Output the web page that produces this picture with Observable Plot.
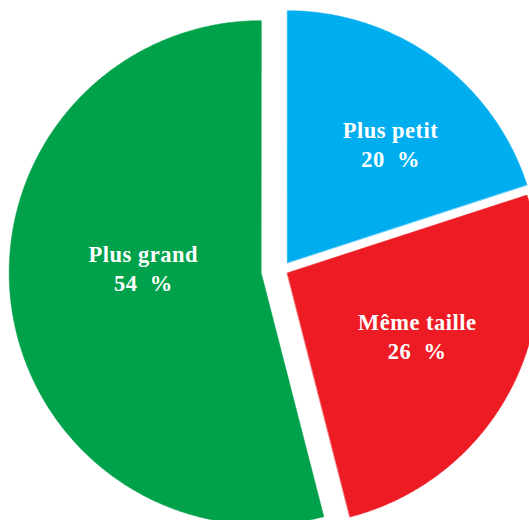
<!DOCTYPE html>
<html>
<head>
<meta charset="utf-8">
<script src="https://cdn.jsdelivr.net/npm/d3@7"></script>
<script src="https://cdn.jsdelivr.net/npm/@observablehq/plot@0.6"></script>
<style>
  html, body { margin: 0; padding: 0; background: #ffffff; }
  #chart svg text { white-space: pre; letter-spacing: 0.5px; }
</style>
</head>
<body>
<div id="chart"></div>
<script>
// ---- data ----
const categories = ["Plus petit", "Même taille", "Plus grand"];
const values = [20, 26, 54];
const valueLabels = ["20  %", "26  %", "54  %"];
const colors = ["#00aeef", "#ed1c24", "#00a14b"];

// ---- layout (pixels) ----
const W = 529, H = 520;
const R = 252;                 // pie radius
const CX = 281.5, CY = 269.5;  // pie centre
const explode = [9, 6, 21];    // outward offset of each slice
const labelPolar = [[40.8, 158], [115.5, 144], [272.7, 118]]; // angle (deg), distance from slice tip

const total = d3.sum(values);
const toRad = Math.PI / 180;
const points = [];
const labelRows = [];
let acc = 0;
categories.forEach((cat, i) => {
  const a0 = (acc / total) * 2 * Math.PI;
  acc += values[i];
  const a1 = (acc / total) * 2 * Math.PI;
  const mid = (a0 + a1) / 2;
  const off = explode[i] / R;
  const ox = off * Math.sin(mid), oy = off * Math.cos(mid);
  points.push({cat, x: ox, y: oy});
  const steps = Math.max(2, Math.ceil((a1 - a0) / (0.4 * toRad)));
  for (let k = 0; k <= steps; k++) {
    const a = a0 + (a1 - a0) * k / steps;
    points.push({cat, x: ox + Math.sin(a), y: oy + Math.cos(a)});
  }
  const [la, ld] = labelPolar[i];
  labelRows.push({
    cat,
    text: cat + "\n" + valueLabels[i],
    x: ox + (ld / R) * Math.sin(la * toRad),
    y: oy + (ld / R) * Math.cos(la * toRad)
  });
});

const chart = Plot.plot({
  width: W,
  height: H,
  margin: 0,
  x: {domain: [-CX / R, (W - CX) / R], axis: null},
  y: {domain: [-(H - CY) / R, CY / R], axis: null},
  color: {domain: categories, range: colors},
  style: {background: "#ffffff", overflow: "hidden"},
  marks: [
    Plot.line(points, {
      x: "x", y: "y", z: "cat",
      fill: "cat", stroke: "cat", strokeWidth: 0.5,
      curve: "linear-closed", clip: true
    }),
    Plot.text(labelRows, {
      x: "x", y: "y", text: "text",
      fill: "white",
      fontSize: 22.5,
      fontWeight: "bold",
      fontFamily: "'Liberation Serif', 'DejaVu Serif', serif",
      lineHeight: 1.3,
      textAnchor: "middle",
      lineAnchor: "middle"
    })
  ]
});
document.getElementById("chart").appendChild(chart);
</script>
</body>
</html>
